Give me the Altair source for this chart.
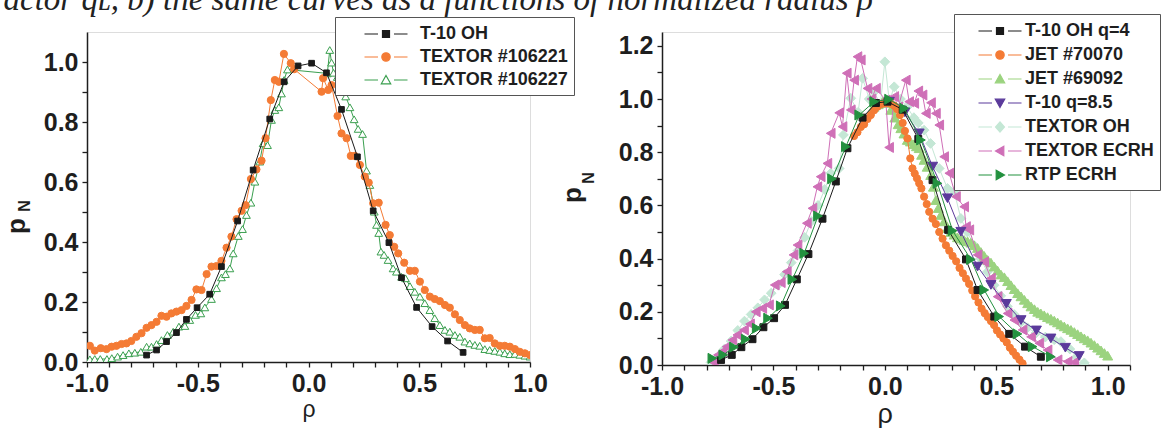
import altair as alt
import pandas as pd

CAPTION = "actor q\u029f, b) the same curves as a functions of normalized radius \u03c1"

# ---------------- left panel data ----------------
LEFT_NAMES = ["T-10 OH", "TEXTOR #106221", "TEXTOR #106227"]

L_T10_X = [-0.731, -0.686, -0.641, -0.596, -0.551, -0.503, -0.446, -0.393, -0.32, -0.25,
           -0.175, -0.11, -0.047, 0.014, 0.081, 0.149, 0.221, 0.292, 0.363, 0.42,
           0.488, 0.558, 0.628, 0.698]
L_T10_Y = [0.023, 0.040, 0.068, 0.098, 0.142, 0.181, 0.226, 0.318, 0.47, 0.64,
           0.81, 0.934, 0.987, 0.996, 0.964, 0.842, 0.684, 0.504, 0.398, 0.281,
           0.182, 0.118, 0.070, 0.032]

L_106221_X = [-0.987, -0.965, -0.938, -0.912, -0.889, -0.867, -0.844, -0.822, -0.8, -0.777,
              -0.754, -0.731, -0.709, -0.686, -0.664, -0.641, -0.619, -0.596, -0.573, -0.551,
              -0.528, -0.506, -0.483, -0.46, -0.438, -0.415, -0.393, -0.37, -0.348, -0.325,
              -0.302, -0.284, -0.26, -0.235, -0.212, -0.194, -0.17, -0.152, -0.134, -0.111,
              -0.08, -0.065,
              0.059, 0.066, 0.089, 0.104, 0.131, 0.149, 0.172, 0.191, 0.209, 0.232,
              0.254, 0.272, 0.292, 0.317, 0.348, 0.367, 0.387, 0.405, 0.432, 0.458,
              0.48, 0.503, 0.525, 0.548, 0.57, 0.593, 0.616, 0.638, 0.661, 0.683,
              0.706, 0.728, 0.751, 0.773, 0.796, 0.818, 0.841, 0.864, 0.886, 0.909,
              0.932, 0.954, 0.977, 1.0]
L_106221_Y = [0.054, 0.038, 0.046, 0.043, 0.051, 0.054, 0.06, 0.062, 0.07, 0.084,
              0.096, 0.114, 0.123, 0.134, 0.154, 0.151, 0.162, 0.168, 0.173, 0.187,
              0.207, 0.242, 0.24, 0.293, 0.318, 0.32, 0.337, 0.381, 0.418, 0.476,
              0.504, 0.523, 0.61, 0.642, 0.671, 0.746, 0.873, 0.94, 0.934, 1.027,
              0.996, 0.976,
              0.901, 0.946, 0.907, 0.923, 0.82, 0.762, 0.746, 0.687, 0.687, 0.657,
              0.618, 0.598, 0.529, 0.531, 0.457, 0.423, 0.384, 0.362, 0.331, 0.304,
              0.304, 0.268, 0.24, 0.218, 0.21, 0.203, 0.19, 0.181, 0.159, 0.14,
              0.123, 0.112, 0.107, 0.107, 0.079, 0.08, 0.062, 0.054, 0.054, 0.051,
              0.043, 0.034, 0.029, 0.023]

L_106227_X = [-0.987, -0.965, -0.94, -0.91, -0.888, -0.862, -0.837, -0.811, -0.784, -0.757,
              -0.731, -0.709, -0.686, -0.664, -0.637, -0.611, -0.585, -0.558, -0.536, -0.51,
              -0.486, -0.468, -0.438, -0.415, -0.393, -0.375, -0.355, -0.34, -0.317, -0.298,
              -0.28, -0.26, -0.242, -0.22, -0.205, -0.185, -0.167, -0.152, -0.134, -0.122,
              -0.11, -0.095,
              0.085, 0.096, 0.104, 0.113, 0.13, 0.15, 0.168, 0.187, 0.206, 0.224,
              0.244, 0.262, 0.277, 0.297, 0.307, 0.317, 0.327, 0.341, 0.359, 0.382,
              0.397, 0.42, 0.438, 0.458, 0.48, 0.503, 0.525, 0.548, 0.57, 0.593,
              0.616, 0.638, 0.661, 0.683, 0.706, 0.728, 0.751, 0.773, 0.796, 0.818,
              0.841, 0.864, 0.886, 0.909, 0.932, 0.954, 0.977, 1.0]
L_106227_Y = [0.009, 0.01, 0.01, 0.01, 0.013, 0.018, 0.023, 0.029, 0.031, 0.034,
              0.051, 0.051, 0.06, 0.073, 0.09, 0.101, 0.118, 0.12, 0.14, 0.157,
              0.162, 0.182, 0.21, 0.246, 0.282, 0.293, 0.312, 0.362, 0.42, 0.443,
              0.49, 0.531, 0.601, 0.668, 0.729, 0.723, 0.807, 0.84, 0.849, 0.895,
              0.94, 0.975,
              0.962, 1.04, 0.998, 0.964, 0.95, 0.92, 0.885, 0.849, 0.809, 0.777,
              0.76, 0.638, 0.59, 0.501, 0.457, 0.43, 0.368, 0.357, 0.34, 0.312,
              0.301, 0.284, 0.279, 0.253, 0.234, 0.218, 0.196, 0.173, 0.146, 0.123,
              0.107, 0.101, 0.09, 0.084, 0.068, 0.062, 0.057, 0.054, 0.043, 0.04,
              0.037, 0.034, 0.029, 0.026, 0.027, 0.024, 0.021, 0.018]

# ---------------- right panel data ----------------
RIGHT_NAMES = ["T-10 OH q=4", "JET #70070", "JET #69092", "T-10 q=8.5",
               "TEXTOR OH", "TEXTOR ECRH", "RTP ECRH"]

R_T10_X = [-0.735, -0.687, -0.644, -0.594, -0.545, -0.497, -0.448, -0.395, -0.343, -0.28,
           -0.22, -0.168, -0.10, -0.04, 0.012, 0.08, 0.15, 0.214, 0.284, 0.364,
           0.416, 0.491, 0.558, 0.629, 0.70]
R_T10_Y = [0.019, 0.038, 0.067, 0.097, 0.142, 0.176, 0.226, 0.322, 0.417, 0.55,
           0.69, 0.815, 0.93, 0.985, 0.99, 0.96, 0.85, 0.695, 0.508, 0.397,
           0.282, 0.182, 0.117, 0.069, 0.031]

R_J70_X = [-0.138, -0.123, -0.108, -0.093, -0.078, -0.063, -0.048, -0.033, -0.018, -0.003,
           0.012, 0.027, 0.042, 0.055, 0.068, 0.08, 0.09, 0.101, 0.114, 0.124,
           0.134, 0.144, 0.154, 0.164, 0.176, 0.188, 0.199, 0.214, 0.229, 0.244,
           0.259, 0.274, 0.289, 0.304, 0.32, 0.335, 0.35, 0.364, 0.378, 0.392,
           0.405, 0.42, 0.434, 0.448, 0.462, 0.476, 0.49, 0.503, 0.517, 0.532,
           0.547, 0.561, 0.575, 0.589, 0.604, 0.618]
R_J70_Y = [0.861, 0.875, 0.895, 0.905, 0.925, 0.94, 0.958, 0.971, 0.98, 0.984,
           0.985, 0.982, 0.975, 0.962, 0.94, 0.91, 0.88, 0.852, 0.777, 0.739,
           0.72, 0.702, 0.683, 0.664, 0.633, 0.605, 0.576, 0.55, 0.53, 0.50,
           0.475, 0.45, 0.43, 0.41, 0.39, 0.365, 0.345, 0.325, 0.305, 0.28,
           0.258, 0.235, 0.212, 0.195, 0.18, 0.165, 0.15, 0.13, 0.115, 0.10,
           0.085, 0.065, 0.05, 0.035, 0.02, 0.006]

R_J69_X = [-0.05, -0.03, -0.01, 0.01, 0.027, 0.045, 0.06, 0.072, 0.086, 0.101,
           0.115, 0.13, 0.142, 0.154, 0.165, 0.176, 0.19, 0.206, 0.218, 0.229,
           0.24, 0.251, 0.266, 0.281, 0.296, 0.311, 0.326, 0.341, 0.356, 0.371,
           0.386, 0.401, 0.416, 0.431, 0.446, 0.461, 0.476, 0.491, 0.506, 0.521,
           0.536, 0.551, 0.566, 0.581, 0.596, 0.611, 0.626, 0.641, 0.656, 0.671,
           0.686, 0.70, 0.715, 0.73, 0.745, 0.76, 0.775, 0.79, 0.805, 0.82,
           0.835, 0.85, 0.865, 0.88, 0.895, 0.91, 0.925, 0.94, 0.955, 0.97,
           0.985, 1.0]
R_J69_Y = [0.97, 0.98, 0.99, 0.985, 0.959, 0.93, 0.905, 0.89, 0.87, 0.846,
           0.84, 0.83, 0.822, 0.815, 0.79, 0.771, 0.745, 0.714, 0.67, 0.62,
           0.59, 0.564, 0.54, 0.515, 0.5, 0.49, 0.48, 0.475, 0.47, 0.465,
           0.46, 0.45, 0.44, 0.425, 0.41, 0.395, 0.385, 0.37, 0.355, 0.34,
           0.33, 0.315, 0.3, 0.285, 0.27, 0.258, 0.245, 0.232, 0.22, 0.21,
           0.2, 0.194, 0.187, 0.18, 0.174, 0.167, 0.16, 0.152, 0.145, 0.138,
           0.132, 0.124, 0.116, 0.108, 0.1, 0.093, 0.084, 0.075, 0.065, 0.055,
           0.045, 0.035]

R_T85_X = [0.02, 0.09, 0.154, 0.214, 0.281, 0.341, 0.416, 0.476, 0.545, 0.611,
           0.68, 0.745, 0.81, 0.872]
R_T85_Y = [0.99, 0.95, 0.871, 0.746, 0.627, 0.501, 0.37, 0.301, 0.23, 0.169,
           0.13, 0.10, 0.065, 0.034]

R_TOH_X = [-0.78, -0.75, -0.72, -0.69, -0.66, -0.63, -0.60, -0.57, -0.54, -0.51,
           -0.48, -0.45, -0.42, -0.39, -0.36, -0.33, -0.30, -0.27, -0.243, -0.205,
           -0.186, -0.153, -0.12, -0.10, -0.07, -0.048, -0.02, 0.0, 0.02, 0.042,
           0.07, 0.10, 0.13, 0.15, 0.176, 0.205, 0.244, 0.281, 0.311, 0.341,
           0.37, 0.40, 0.43, 0.46, 0.49, 0.52, 0.55, 0.58, 0.61, 0.64,
           0.678, 0.72, 0.76, 0.79, 0.83, 0.86, 0.895]
R_TOH_Y = [0.01, 0.03, 0.06, 0.09, 0.13, 0.165, 0.19, 0.215, 0.245, 0.27,
           0.30, 0.34, 0.385, 0.43, 0.48, 0.54, 0.60, 0.66, 0.721, 0.739,
           0.865, 1.003, 0.95, 1.078, 1.0, 1.027, 0.98, 1.14, 0.99, 1.046,
           1.0, 0.97, 0.93, 0.91, 0.883, 0.833, 0.739, 0.664, 0.652, 0.551,
           0.50, 0.45, 0.40, 0.35, 0.30, 0.26, 0.22, 0.19, 0.16, 0.14,
           0.12, 0.105, 0.095, 0.088, 0.06, 0.03, 0.008]

R_TEC_X = [-0.767, -0.749, -0.73, -0.71, -0.684, -0.662, -0.632, -0.605, -0.579, -0.55,
           -0.52, -0.494, -0.467, -0.44, -0.41, -0.392, -0.35, -0.325, -0.303, -0.288,
           -0.258, -0.243, -0.205, -0.19, -0.171, -0.153, -0.138, -0.123, -0.108, -0.078,
           -0.06, -0.04, 0.004, 0.019, 0.042, 0.06, 0.094, 0.109, 0.132, 0.15,
           0.169, 0.184, 0.207, 0.229, 0.244, 0.266, 0.289, 0.319, 0.356, 0.364,
           0.379, 0.416, 0.446, 0.476, 0.506, 0.551, 0.581, 0.618, 0.656, 0.693,
           0.73, 0.775, 0.82, 0.85]
R_TEC_Y = [0.009, 0.038, 0.05, 0.069, 0.094, 0.113, 0.132, 0.154, 0.2, 0.213,
           0.226, 0.301, 0.31, 0.351, 0.414, 0.451, 0.533, 0.589, 0.67, 0.708,
           0.758, 0.871, 0.948, 0.896, 1.097, 0.959, 1.071, 1.159, 1.147, 1.04,
           1.0, 1.04, 0.996, 0.818, 1.009, 0.97, 1.071, 0.99, 0.984, 1.03,
           1.015, 0.946, 0.986, 0.946, 0.902, 0.783, 0.721, 0.633, 0.595, 0.52,
           0.508, 0.414, 0.388, 0.326, 0.257, 0.194, 0.169, 0.132, 0.106, 0.082,
           0.056, 0.019, 0.013, 0.01]

R_RTP_X = [-0.774, -0.725, -0.677, -0.624, -0.575, -0.524, -0.467, -0.415, -0.362, -0.30,
           -0.237, -0.175, -0.115, -0.048, 0.019, 0.087, 0.162, 0.236, 0.304, 0.386,
           0.446, 0.513, 0.595, 0.663, 0.745]
R_RTP_Y = [0.025, 0.038, 0.067, 0.097, 0.138, 0.176, 0.222, 0.322, 0.42, 0.56,
           0.70, 0.821, 0.94, 0.99, 0.999, 0.965, 0.846, 0.683, 0.505, 0.397,
           0.282, 0.182, 0.117, 0.069, 0.031]

# axis tick values / labels
L_XTICKS = [-1.0, -0.9, -0.8, -0.7, -0.6, -0.5, -0.4, -0.3, -0.2, -0.1, 0.0,
            0.1, 0.2, 0.3, 0.4, 0.5, 0.6, 0.7, 0.8, 0.9, 1.0]
L_YTICKS = [0.0, 0.1, 0.2, 0.3, 0.4, 0.5, 0.6, 0.7, 0.8, 0.9, 1.0]
R_XTICKS = L_XTICKS + [1.1]
R_YTICKS = L_YTICKS + [1.1, 1.2]

FONT = "Liberation Sans"
INK = "#1e1e1e"

# legend symbols: line - marker - line (marker part only)
LINES = "M-2.15,0H-0.8M0.8,0H2.15"
SQ = "M-0.35,-0.35H0.35V0.35H-0.35Z"
CI = "M0.42,0A0.42,0.42 0 1,1 -0.42,0A0.42,0.42 0 1,1 0.42,0Z"
TU = "M0,-0.45L0.47,0.38L-0.47,0.38Z"
TD = "M0,0.45L0.47,-0.38L-0.47,-0.38Z"
DI = "M0,-0.52L0.45,0L0,0.52L-0.45,0Z"
TL = "M-0.45,0L0.38,-0.47L0.38,0.47Z"
TR = "M0.45,0L-0.38,-0.47L-0.38,0.47Z"

# name -> (line colour, fill, marker shape, marker size, legend marker)
LEFT_STYLE = {
    "T-10 OH": ("#1a1a1a", "#1a1a1a", "square", 32, SQ),
    "TEXTOR #106221": ("#f47b35", "#f47b35", "circle", 52, CI),
    "TEXTOR #106227": ("#3a9f4f", "white", "triangle-up", 60, TU),
}
RIGHT_STYLE = {
    "T-10 OH q=4": ("#1a1a1a", "#1a1a1a", "square", 48, SQ),
    "JET #70070": ("#f47b35", "#f47b35", "circle", 52, CI),
    "JET #69092": ("#9bd37f", "#9bd37f", "triangle-up", 100, TU),
    "T-10 q=8.5": ("#5b3a9b", "#5b3a9b", "triangle-down", 100, TD),
    "TEXTOR OH": ("#c4e7d5", "#c4e7d5", "diamond", 95, DI),
    "TEXTOR ECRH": ("#cf6fb7", "#cf6fb7", "triangle-left", 100, TL),
    "RTP ECRH": ("#23913f", "#23913f", "triangle-right", 100, TR),
}


def frame(names, xs, ys):
    rows = []
    for n, xa, ya in zip(names, xs, ys):
        for i, (a, b) in enumerate(zip(xa, ya)):
            rows.append({"s": n, "x": a, "y": b, "i": i})
    return pd.DataFrame(rows)


def tick_label(step):
    return ("abs(datum.value/%s - round(datum.value/%s)) < 0.001 ? "
            "replace(format(datum.value, '.1f'), '\u2212', '-') : ''" % (step, step))


def panel(names, styles, draw_order, df, xdom, ydom, xticks, yticks, w, h,
          legend_opts, lead, ytext_pos, title_x, title_size):
    xax = alt.Axis(values=xticks, labelExpr=tick_label(0.5), title="\u03c1",
                   titleFont=FONT, titleFontWeight="normal", titleFontSize=title_size,
                   titleColor=INK, titleX=title_x, titlePadding=2,
                   labelFont=FONT, labelFontWeight="bold", labelFontSize=25,
                   labelColor=INK, labelPadding=4, labelOverlap=False, labelFlush=False,
                   grid=False, domainColor=INK, domainWidth=1.5, tickColor=INK,
                   tickWidth=1.3, tickSize=5)
    yax = alt.Axis(values=yticks, labelExpr=tick_label(0.2), title=None,
                   labelFont=FONT, labelFontWeight="bold", labelFontSize=25,
                   labelColor=INK, labelPadding=4, labelOverlap=False, labelFlush=False,
                   grid=False, domainColor=INK, domainWidth=1.5, tickColor=INK,
                   tickWidth=1.3, tickSize=5)
    X = alt.X("x:Q", scale=alt.Scale(domain=xdom, nice=False, zero=False), axis=xax)
    Y = alt.Y("y:Q", scale=alt.Scale(domain=ydom, nice=False, zero=False), axis=yax)
    base = alt.Chart(df)
    layers = []
    for n in draw_order:
        col, fill, shp, size, _ = styles[n]
        sub = base.transform_filter(alt.datum.s == n)
        layers.append(sub.mark_line(color=col, strokeWidth=1, clip=True)
                      .encode(x=X, y=Y, order="i:Q"))
        layers.append(sub.mark_point(shape=shp, size=size, fill=fill, stroke=col,
                                     strokeWidth=1, opacity=1, fillOpacity=1,
                                     clip=True)
                      .encode(x=X, y=Y))
    leg = alt.Legend(title=None, orient="none", direction="vertical",
                     fillColor="white", strokeColor="#555",
                     symbolSize=400, symbolStrokeWidth=1.2, symbolOpacity=1,
                     labelFont=FONT, labelFontWeight="bold",
                     labelFontSize=18, labelColor=INK, labelLimit=400,
                     labelExpr="datum.label + '\u00a0\u00a0'", **legend_opts)
    sym_paths = ["M%s,0%s%s" % (lead, LINES, styles[n][4]) for n in names]
    layers.append(
        base.mark_point(opacity=0, size=1).encode(
            x=X, y=Y,
            shape=alt.Shape("s:N", scale=alt.Scale(domain=names, range=sym_paths),
                            legend=leg),
            fill=alt.Fill("s:N", scale=alt.Scale(domain=names,
                          range=[styles[n][1] for n in names]), legend=leg),
            stroke=alt.Stroke("s:N", scale=alt.Scale(domain=names,
                              range=[styles[n][0] for n in names]), legend=leg),
        )
    )
    (px, py), (nx, ny) = ytext_pos
    tdf = pd.DataFrame({"t": ["p"]})
    layers.append(alt.Chart(tdf).mark_text(angle=270, font=FONT, fontWeight="bold",
                                           fontSize=26, color=INK)
                  .encode(x=alt.value(px), y=alt.value(py), text="t:N"))
    ndf = pd.DataFrame({"t": ["N"]})
    layers.append(alt.Chart(ndf).mark_text(angle=270, font=FONT, fontWeight="bold",
                                           fontSize=16, color=INK)
                  .encode(x=alt.value(nx), y=alt.value(ny), text="t:N"))
    return alt.layer(*layers).properties(width=w, height=h)


left_df = frame(LEFT_NAMES, [L_T10_X, L_106221_X, L_106227_X],
                [L_T10_Y, L_106221_Y, L_106227_Y])
right_df = frame(RIGHT_NAMES,
                 [R_T10_X, R_J70_X, R_J69_X, R_T85_X, R_TOH_X, R_TEC_X, R_RTP_X],
                 [R_T10_Y, R_J70_Y, R_J69_Y, R_T85_Y, R_TOH_Y, R_TEC_Y, R_RTP_Y])

left = panel(LEFT_NAMES, LEFT_STYLE,
             ["TEXTOR #106227", "TEXTOR #106221", "T-10 OH"],
             left_df, [-1.0, 1.0], [0.0, 1.1], L_XTICKS, L_YTICKS, 443, 330,
             dict(legendX=248, legendY=-15, padding=6, rowPadding=3,
                  symbolOffset=34, labelOffset=23),
             "-3.5", ((-70, 194), (-62, 174)), 221.5, 23)
right = panel(RIGHT_NAMES, RIGHT_STYLE,
              ["TEXTOR OH", "JET #69092", "TEXTOR ECRH", "T-10 q=8.5", "JET #70070",
               "T-10 OH q=4", "RTP ECRH"],
              right_df, [-1.0, 1.1], [0.0, 1.252], R_XTICKS, R_YTICKS, 468, 333,
              dict(legendX=292, legendY=-18, padding=6, rowPadding=4,
                   symbolOffset=29, labelOffset=14),
              "-3.1", ((-89, 163), (-73, 146)), 222.7, 27)

chart = alt.hconcat(left, right, spacing=132, bounds="flush").resolve_scale(
    shape="independent", fill="independent", stroke="independent"
).resolve_legend(
    shape="independent", fill="independent", stroke="independent"
).properties(
    title=alt.TitleParams(text=CAPTION, anchor="start",
                          font="Liberation Serif", fontStyle="italic",
                          fontWeight="normal", fontSize=33, color="#222", offset=-4),
    padding={"left": 3, "top": -16, "right": 0, "bottom": 0},
).configure_view(stroke=None).configure(background="white")

chart.save("out.html", embed_options={"renderer": "svg", "actions": False})
